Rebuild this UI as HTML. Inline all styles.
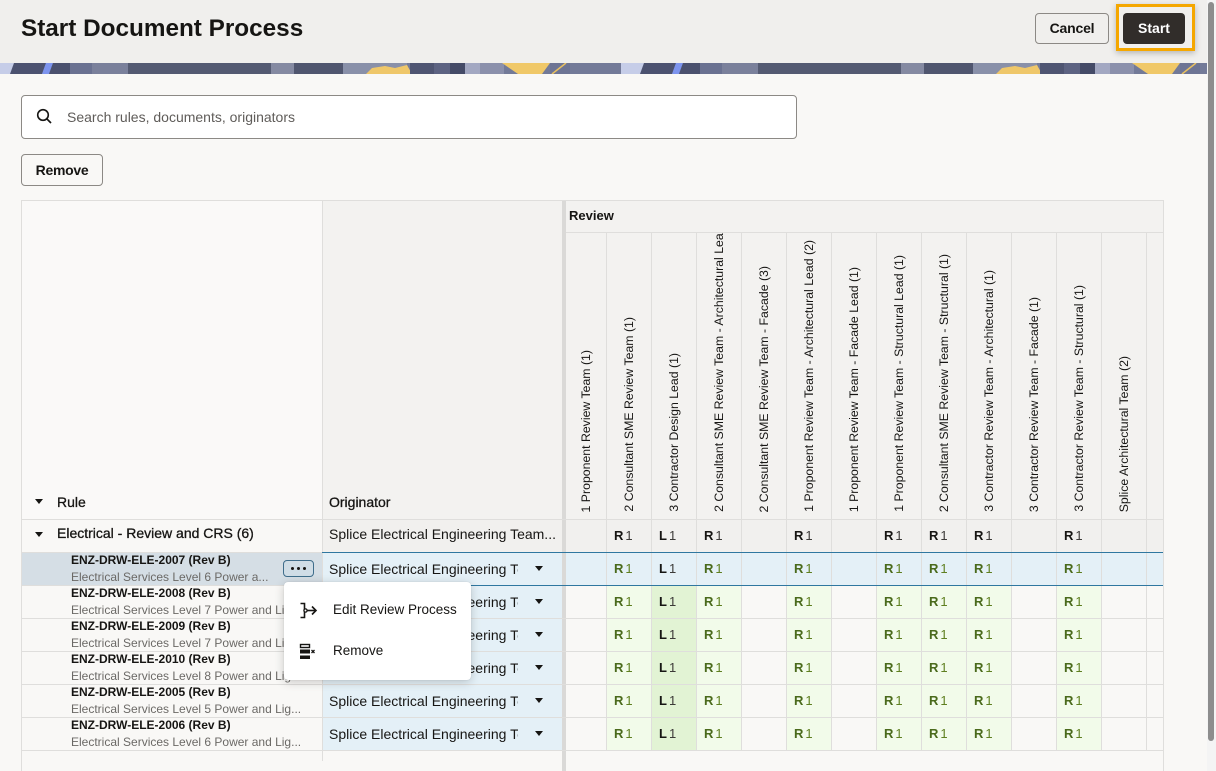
<!DOCTYPE html>
<html><head><meta charset="utf-8">
<style>
*{box-sizing:border-box;margin:0;padding:0}
html,body{width:1216px;height:771px;overflow:hidden;background:#f9f8f6;font-family:"Liberation Sans",sans-serif;color:#161513}
.a{position:absolute}
.hl{position:absolute;height:1px;background:#dfdedc}
.vl{position:absolute;width:1px;background:#dfdedc}
.tri{position:absolute;width:0;height:0;border-left:4.5px solid transparent;border-right:4.5px solid transparent;border-top:5.5px solid #161513}
.tri2{position:absolute;width:0;height:0;border-left:4px solid transparent;border-right:4px solid transparent;border-top:5px solid #161513}
.hc{position:absolute;top:233px;height:286px;overflow:hidden}
.hc span{position:absolute;bottom:7px;left:50%;writing-mode:vertical-rl;transform:translateX(-50%) rotate(180deg);font-size:12.3px;line-height:14px;white-space:nowrap;color:#161513}
.c{position:absolute;height:32px;line-height:32px;padding-left:7px;white-space:nowrap}
.c b{font-weight:700;font-size:13px}
.c em{font-style:normal;font-size:13px;margin-left:2px}
.t0 b{color:#161513}.t0 em{color:#3c3a38}
.tg b{color:#4a6a1c}.tg em{color:#5f7f20}
.tl b{color:#161513}.tl em{color:#3c3a38}
.g{background:#f2fbea}.gl{background:#e2f3d4}
.k1{left:607px;width:44px}.k2{left:652px;width:44px}.k3{left:697px;width:44px}
.k5{left:787px;width:44px}.k7{left:877px;width:44px}.k8{left:922px;width:44px}
.k9{left:967px;width:44px}.k11{left:1057px;width:44px}
.r0{top:520px}.r1{top:553px}.r2{top:586px}.r3{top:619px}.r4{top:652px}.r5{top:685px}.r6{top:718px}
.dt{position:absolute;left:71px;font-size:12px;font-weight:700;line-height:16px;white-space:nowrap}
.ds{position:absolute;left:71px;width:240px;overflow:hidden;font-size:12px;line-height:16px;color:#6b6966;white-space:nowrap}
.ob{position:absolute;left:323px;width:239px;height:32px;background:#e4f0f7}
.ot{position:absolute;left:329px;width:189px;overflow:hidden;white-space:nowrap;font-size:14px;line-height:16px}
</style></head><body>

<!-- header -->
<div class="a" style="left:0;top:0;width:1207px;height:63px;background:#f0efed"></div>
<div class="a" style="left:21px;top:15px;font-size:24.3px;font-weight:700;line-height:28px;white-space:nowrap">Start Document Process</div>
<div class="a" style="left:1035px;top:13px;width:74px;height:31px;border:1px solid #8c8985;border-radius:4px;font-size:14px;font-weight:700;line-height:29px;text-align:center;letter-spacing:-0.2px">Cancel</div>
<div class="a" style="left:1116px;top:4px;width:79px;height:47px;border:3px solid #f5a700;box-shadow:0 2px 6px rgba(0,0,0,.25)"></div>
<div class="a" style="left:1123px;top:13px;width:62px;height:31px;background:#312d2a;border-radius:4px;color:#fff;font-size:14px;font-weight:700;line-height:31px;text-align:center">Start</div>

<!-- banner -->
<svg class="a" style="left:0;top:63px" width="1207" height="11">
<defs><pattern id="p" x="0" y="0" width="630" height="11" patternUnits="userSpaceOnUse">
<rect width="630" height="11" fill="#737a98"/>
<rect x="0" width="14" height="11" fill="#c6cde8"/>
<polygon points="14,0 46,0 42,11 10,11" fill="#4c5270"/>
<polygon points="46,0 53,0 49,11 42,11" fill="#7d94ee"/>
<polygon points="53,0 72,0 70,11 49,11" fill="#4b516e"/>
<rect x="70" width="22" height="11" fill="#6a7191"/>
<rect x="92" width="36" height="11" fill="#7a809b"/>
<rect x="128" width="143" height="11" fill="#545a72"/>
<rect x="271" width="23" height="11" fill="#858aa2"/>
<rect x="294" width="49" height="11" fill="#50566f"/>
<rect x="343" width="64" height="11" fill="#8990a9"/>
<polygon points="366,11 372,5 385,3 395,5 407,2 412,11" fill="#efc76a"/>
<rect x="410" width="24" height="11" fill="#4f5572"/>
<rect x="434" width="16" height="11" fill="#5d6382"/>
<rect x="450" width="15" height="11" fill="#454b67"/>
<rect x="465" width="15" height="11" fill="#a3a8c2"/>
<rect x="480" width="24" height="11" fill="#8b90ab"/>
<polygon points="502,0 550,0 542,11 518,11" fill="#f0c868"/>
<rect x="550" width="20" height="11" fill="#6d7494"/>
<line x1="552" y1="11" x2="566" y2="0" stroke="#e8c060" stroke-width="1.5"/>
<rect x="621" width="9" height="11" fill="#c6cde8"/>
</pattern></defs>
<rect width="1207" height="11" fill="url(#p)"/>
</svg>

<!-- search -->
<div class="a" style="left:21px;top:95px;width:776px;height:44px;background:#fff;border:1px solid #8c8985;border-radius:4px"></div>
<svg class="a" style="left:36px;top:108px" width="17" height="17"><circle cx="7" cy="7" r="5.3" fill="none" stroke="#161513" stroke-width="1.6"/><line x1="10.8" y1="10.8" x2="15" y2="15" stroke="#161513" stroke-width="1.7"/></svg>
<div class="a" style="left:67px;top:109px;font-size:14px;line-height:16px;color:#5f5c59;white-space:nowrap">Search rules, documents, originators</div>

<div class="a" style="left:21px;top:154px;width:82px;height:32px;border:1px solid #8c8985;border-radius:4px;font-size:14px;font-weight:700;line-height:30px;text-align:center;letter-spacing:-0.3px">Remove</div>

<!-- table backgrounds -->
<div class="a" style="left:21px;top:200px;width:301px;height:319px;background:#faf9f8"></div>
<div class="a" style="left:322px;top:200px;width:240px;height:319px;background:#f3f2f0"></div>
<div class="a" style="left:566px;top:200px;width:597px;height:319px;background:#f3f2f0"></div>
<div class="a" style="left:562px;top:200px;width:4px;height:571px;background:#dad9d7"></div>

<!-- group row bg -->
<div class="a" style="left:323px;top:520px;width:239px;height:32px;background:#f1f0ee"></div>
<div class="a" style="left:566px;top:520px;width:597px;height:32px;background:#f1f0ee"></div>
<!-- selected row bg -->
<div class="a" style="left:22px;top:553px;width:300px;height:32px;background:#d5dee5"></div>
<div class="a" style="left:566px;top:553px;width:597px;height:32px;background:#e4f0f7"></div>
<div class="ob" style="top:553px"></div>
<div class="ob" style="top:586px"></div>
<div class="ob" style="top:619px"></div>
<div class="ob" style="top:652px"></div>
<div class="ob" style="top:685px"></div>
<div class="ob" style="top:718px"></div>

<!-- value cells rows 2-6 (bg) -->
<div class="c k1 r2 g"></div><div class="c k2 r2 gl"></div><div class="c k3 r2 g"></div><div class="c k5 r2 g"></div><div class="c k7 r2 g"></div><div class="c k8 r2 g"></div><div class="c k9 r2 g"></div><div class="c k11 r2 g"></div>
<div class="c k1 r3 g"></div><div class="c k2 r3 gl"></div><div class="c k3 r3 g"></div><div class="c k5 r3 g"></div><div class="c k7 r3 g"></div><div class="c k8 r3 g"></div><div class="c k9 r3 g"></div><div class="c k11 r3 g"></div>
<div class="c k1 r4 g"></div><div class="c k2 r4 gl"></div><div class="c k3 r4 g"></div><div class="c k5 r4 g"></div><div class="c k7 r4 g"></div><div class="c k8 r4 g"></div><div class="c k9 r4 g"></div><div class="c k11 r4 g"></div>
<div class="c k1 r5 g"></div><div class="c k2 r5 gl"></div><div class="c k3 r5 g"></div><div class="c k5 r5 g"></div><div class="c k7 r5 g"></div><div class="c k8 r5 g"></div><div class="c k9 r5 g"></div><div class="c k11 r5 g"></div>
<div class="c k1 r6 g"></div><div class="c k2 r6 gl"></div><div class="c k3 r6 g"></div><div class="c k5 r6 g"></div><div class="c k7 r6 g"></div><div class="c k8 r6 g"></div><div class="c k9 r6 g"></div><div class="c k11 r6 g"></div>

<!-- lines -->
<div class="hl" style="left:21px;top:200px;width:1143px"></div>
<div class="vl" style="left:21px;top:200px;height:571px"></div>
<div class="vl" style="left:322px;top:200px;height:561px"></div>
<div class="vl" style="left:1163px;top:200px;height:571px"></div>
<div class="hl" style="left:566px;top:232px;width:597px"></div>
<div class="vl" style="left:606px;top:232px;height:518px"></div>
<div class="vl" style="left:651px;top:232px;height:518px"></div>
<div class="vl" style="left:696px;top:232px;height:518px"></div>
<div class="vl" style="left:741px;top:232px;height:518px"></div>
<div class="vl" style="left:786px;top:232px;height:518px"></div>
<div class="vl" style="left:831px;top:232px;height:518px"></div>
<div class="vl" style="left:876px;top:232px;height:518px"></div>
<div class="vl" style="left:921px;top:232px;height:518px"></div>
<div class="vl" style="left:966px;top:232px;height:518px"></div>
<div class="vl" style="left:1011px;top:232px;height:518px"></div>
<div class="vl" style="left:1056px;top:232px;height:518px"></div>
<div class="vl" style="left:1101px;top:232px;height:518px"></div>
<div class="vl" style="left:1146px;top:232px;height:518px"></div>
<div class="hl" style="left:21px;top:519px;width:1143px"></div>
<div class="hl" style="left:21px;top:552px;width:301px"></div>
<div class="hl" style="left:21px;top:585px;width:301px"></div>
<div class="hl" style="left:21px;top:618px;width:1143px"></div>
<div class="hl" style="left:21px;top:651px;width:1143px"></div>
<div class="hl" style="left:21px;top:684px;width:1143px"></div>
<div class="hl" style="left:21px;top:717px;width:1143px"></div>
<div class="hl" style="left:21px;top:750px;width:1143px"></div>
<div class="hl" style="left:322px;top:552px;width:841px;background:#2f77a0"></div>
<div class="hl" style="left:322px;top:585px;width:841px;background:#2f77a0"></div>

<!-- header texts -->
<div class="a" style="left:569px;top:208px;font-size:13px;font-weight:700;line-height:16px">Review</div>
<div class="tri" style="left:35px;top:499px"></div>
<div class="a" style="left:57px;top:494px;font-size:14px;line-height:16px;-webkit-text-stroke:0.3px #161513">Rule</div>
<div class="a" style="left:329px;top:494px;font-size:14px;line-height:16px;-webkit-text-stroke:0.3px #161513">Originator</div>

<div class="hc" style="left:566px;width:40px"><span>1 Proponent Review Team (1)</span></div>
<div class="hc" style="left:607px;width:44px"><span>2 Consultant SME Review Team (1)</span></div>
<div class="hc" style="left:652px;width:44px"><span>3 Contractor Design Lead (1)</span></div>
<div class="hc" style="left:697px;width:44px"><span>2 Consultant SME Review Team - Architectural Lead (1)</span></div>
<div class="hc" style="left:742px;width:44px"><span>2 Consultant SME Review Team - Facade (3)</span></div>
<div class="hc" style="left:787px;width:44px"><span>1 Proponent Review Team - Architectural Lead (2)</span></div>
<div class="hc" style="left:832px;width:44px"><span>1 Proponent Review Team - Facade Lead (1)</span></div>
<div class="hc" style="left:877px;width:44px"><span>1 Proponent Review Team - Structural Lead (1)</span></div>
<div class="hc" style="left:922px;width:44px"><span>2 Consultant SME Review Team - Structural (1)</span></div>
<div class="hc" style="left:967px;width:44px"><span>3 Contractor Review Team - Architectural (1)</span></div>
<div class="hc" style="left:1012px;width:44px"><span>3 Contractor Review Team - Facade (1)</span></div>
<div class="hc" style="left:1057px;width:44px"><span>3 Contractor Review Team - Structural (1)</span></div>
<div class="hc" style="left:1102px;width:44px"><span>Splice Architectural Team (2)</span></div>

<!-- group row -->
<div class="tri" style="left:35px;top:532px"></div>
<div class="a" style="left:57px;top:525px;font-size:14px;line-height:16px;white-space:nowrap;-webkit-text-stroke:0.3px #161513">Electrical - Review and CRS (6)</div>
<div class="a" style="left:329px;top:526px;font-size:14px;line-height:16px;white-space:nowrap">Splice Electrical Engineering Team...</div>

<!-- doc rows left -->
<div class="dt" style="top:552px">ENZ-DRW-ELE-2007 (Rev B)</div>
<div class="ds" style="top:569px;width:210px">Electrical Services Level 6 Power a...</div>
<div class="a" style="left:283px;top:560px;width:31px;height:17px;border:1px solid #3f6d8b;border-radius:4px;background:#d0dde6"></div>
<div class="a" style="left:291px;top:567px;width:3px;height:3px;background:#161513;border-radius:50%"></div>
<div class="a" style="left:297px;top:567px;width:3px;height:3px;background:#161513;border-radius:50%"></div>
<div class="a" style="left:303px;top:567px;width:3px;height:3px;background:#161513;border-radius:50%"></div>

<div class="dt" style="top:585px">ENZ-DRW-ELE-2008 (Rev B)</div>
<div class="ds" style="top:602px">Electrical Services Level 7 Power and Lig...</div>
<div class="dt" style="top:618px">ENZ-DRW-ELE-2009 (Rev B)</div>
<div class="ds" style="top:635px">Electrical Services Level 7 Power and Lig...</div>
<div class="dt" style="top:651px">ENZ-DRW-ELE-2010 (Rev B)</div>
<div class="ds" style="top:668px">Electrical Services Level 8 Power and Lig...</div>
<div class="dt" style="top:684px">ENZ-DRW-ELE-2005 (Rev B)</div>
<div class="ds" style="top:701px">Electrical Services Level 5 Power and Lig...</div>
<div class="dt" style="top:717px">ENZ-DRW-ELE-2006 (Rev B)</div>
<div class="ds" style="top:734px">Electrical Services Level 6 Power and Lig...</div>

<!-- originator cells -->
<div class="ot" style="top:561px">Splice Electrical Engineering Team</div><div class="tri2" style="left:535px;top:566px"></div>
<div class="ot" style="top:594px">Splice Electrical Engineering Team</div><div class="tri2" style="left:535px;top:599px"></div>
<div class="ot" style="top:627px">Splice Electrical Engineering Team</div><div class="tri2" style="left:535px;top:632px"></div>
<div class="ot" style="top:660px">Splice Electrical Engineering Team</div><div class="tri2" style="left:535px;top:665px"></div>
<div class="ot" style="top:693px">Splice Electrical Engineering Team</div><div class="tri2" style="left:535px;top:698px"></div>
<div class="ot" style="top:726px">Splice Electrical Engineering Team</div><div class="tri2" style="left:535px;top:731px"></div>

<!-- values group row -->
<div class="c k1 r0 t0"><b>R</b><em>1</em></div><div class="c k2 r0 t0"><b>L</b><em>1</em></div><div class="c k3 r0 t0"><b>R</b><em>1</em></div><div class="c k5 r0 t0"><b>R</b><em>1</em></div><div class="c k7 r0 t0"><b>R</b><em>1</em></div><div class="c k8 r0 t0"><b>R</b><em>1</em></div><div class="c k9 r0 t0"><b>R</b><em>1</em></div><div class="c k11 r0 t0"><b>R</b><em>1</em></div>
<!-- values rows -->
<div class="c k1 r1 tg"><b>R</b><em>1</em></div><div class="c k2 r1 tl"><b>L</b><em>1</em></div><div class="c k3 r1 tg"><b>R</b><em>1</em></div><div class="c k5 r1 tg"><b>R</b><em>1</em></div><div class="c k7 r1 tg"><b>R</b><em>1</em></div><div class="c k8 r1 tg"><b>R</b><em>1</em></div><div class="c k9 r1 tg"><b>R</b><em>1</em></div><div class="c k11 r1 tg"><b>R</b><em>1</em></div>
<div class="c k1 r2 tg"><b>R</b><em>1</em></div><div class="c k2 r2 tl"><b>L</b><em>1</em></div><div class="c k3 r2 tg"><b>R</b><em>1</em></div><div class="c k5 r2 tg"><b>R</b><em>1</em></div><div class="c k7 r2 tg"><b>R</b><em>1</em></div><div class="c k8 r2 tg"><b>R</b><em>1</em></div><div class="c k9 r2 tg"><b>R</b><em>1</em></div><div class="c k11 r2 tg"><b>R</b><em>1</em></div>
<div class="c k1 r3 tg"><b>R</b><em>1</em></div><div class="c k2 r3 tl"><b>L</b><em>1</em></div><div class="c k3 r3 tg"><b>R</b><em>1</em></div><div class="c k5 r3 tg"><b>R</b><em>1</em></div><div class="c k7 r3 tg"><b>R</b><em>1</em></div><div class="c k8 r3 tg"><b>R</b><em>1</em></div><div class="c k9 r3 tg"><b>R</b><em>1</em></div><div class="c k11 r3 tg"><b>R</b><em>1</em></div>
<div class="c k1 r4 tg"><b>R</b><em>1</em></div><div class="c k2 r4 tl"><b>L</b><em>1</em></div><div class="c k3 r4 tg"><b>R</b><em>1</em></div><div class="c k5 r4 tg"><b>R</b><em>1</em></div><div class="c k7 r4 tg"><b>R</b><em>1</em></div><div class="c k8 r4 tg"><b>R</b><em>1</em></div><div class="c k9 r4 tg"><b>R</b><em>1</em></div><div class="c k11 r4 tg"><b>R</b><em>1</em></div>
<div class="c k1 r5 tg"><b>R</b><em>1</em></div><div class="c k2 r5 tl"><b>L</b><em>1</em></div><div class="c k3 r5 tg"><b>R</b><em>1</em></div><div class="c k5 r5 tg"><b>R</b><em>1</em></div><div class="c k7 r5 tg"><b>R</b><em>1</em></div><div class="c k8 r5 tg"><b>R</b><em>1</em></div><div class="c k9 r5 tg"><b>R</b><em>1</em></div><div class="c k11 r5 tg"><b>R</b><em>1</em></div>
<div class="c k1 r6 tg"><b>R</b><em>1</em></div><div class="c k2 r6 tl"><b>L</b><em>1</em></div><div class="c k3 r6 tg"><b>R</b><em>1</em></div><div class="c k5 r6 tg"><b>R</b><em>1</em></div><div class="c k7 r6 tg"><b>R</b><em>1</em></div><div class="c k8 r6 tg"><b>R</b><em>1</em></div><div class="c k9 r6 tg"><b>R</b><em>1</em></div><div class="c k11 r6 tg"><b>R</b><em>1</em></div>

<!-- popup menu -->
<div class="a" style="left:284px;top:582px;width:187px;height:98px;background:#fff;border-radius:4px;box-shadow:0 2px 10px rgba(0,0,0,.2),0 0 1px rgba(0,0,0,.15)"></div>
<svg class="a" style="left:299px;top:602px" width="19" height="17">
<path d="M1.5 1.5 H5.5 V15.5 H1.5" fill="none" stroke="#161513" stroke-width="1.6"/>
<circle cx="6.5" cy="8.5" r="1.6" fill="#fff" stroke="#161513" stroke-width="1.3"/>
<line x1="8" y1="8.5" x2="17" y2="8.5" stroke="#161513" stroke-width="1.6"/>
<path d="M13 4.5 L17 8.5 L13 12.5" fill="none" stroke="#161513" stroke-width="1.6"/>
</svg>
<div class="a" style="left:333px;top:602px;font-size:13.5px;line-height:16px;white-space:nowrap">Edit Review Process</div>
<svg class="a" style="left:299px;top:643px" width="17" height="17">
<rect x="1.5" y="1.5" width="9" height="3" fill="none" stroke="#161513" stroke-width="1.4"/>
<rect x="1" y="6.5" width="10" height="4" fill="#161513"/>
<rect x="1" y="12.5" width="10" height="3.5" fill="#161513"/>
<path d="M12.5 7 L15.5 10 M15.5 7 L12.5 10" stroke="#161513" stroke-width="1.3"/>
</svg>
<div class="a" style="left:333px;top:643px;font-size:13.5px;line-height:16px;white-space:nowrap">Remove</div>

<!-- scrollbar -->
<div class="a" style="left:1207px;top:0;width:9px;height:771px;background:#f4f4f4"></div>
<div class="a" style="left:1208px;top:2px;width:6px;height:739px;background:#8d8d8d;border-radius:3px"></div>
</body></html>
